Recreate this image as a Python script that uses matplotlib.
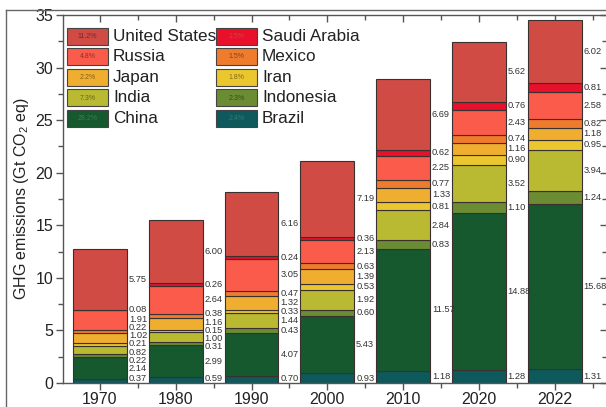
import numpy as np
import matplotlib
matplotlib.use("Agg")
import matplotlib.pyplot as plt
from matplotlib.patches import Rectangle
from matplotlib.lines import Line2D
from matplotlib.ticker import MultipleLocator, FixedLocator
import matplotlib.colors as mcolors

plt.rcParams['font.family'] = ['Liberation Sans', 'DejaVu Sans']
plt.rcParams['mathtext.fontset'] = 'custom'
plt.rcParams['mathtext.rm'] = 'Liberation Sans'

years = ['1970', '1980', '1990', '2000', '2010', '2020', '2022']

# stacking order, bottom to top
countries = ['Brazil', 'China', 'Indonesia', 'India', 'Iran', 'Japan',
             'Mexico', 'Russia', 'Saudi Arabia', 'United States']

brazil = [0.37, 0.59, 0.70, 0.93, 1.18, 1.28, 1.31]
china = [2.14, 2.99, 4.07, 5.43, 11.57, 14.88, 15.68]
indonesia = [0.22, 0.31, 0.43, 0.60, 0.83, 1.10, 1.24]
india = [0.82, 1.00, 1.44, 1.92, 2.84, 3.52, 3.94]
iran = [0.21, 0.15, 0.33, 0.53, 0.81, 0.90, 0.95]
japan = [1.02, 1.16, 1.32, 1.39, 1.33, 1.16, 1.18]
mexico = [0.22, 0.38, 0.47, 0.63, 0.77, 0.74, 0.82]
russia = [1.91, 2.64, 3.05, 2.13, 2.25, 2.43, 2.58]
saudi = [0.08, 0.26, 0.24, 0.36, 0.62, 0.76, 0.81]
usa = [5.75, 6.00, 6.16, 7.19, 6.69, 5.62, 6.02]

# 2022 share of global emissions shown in the legend keys
shares = {'United States': '11.2%', 'Russia': '4.8%', 'Japan': '2.2%',
          'India': '7.3%', 'China': '28.2%', 'Saudi Arabia': '1.5%',
          'Mexico': '1.5%', 'Iran': '1.8%', 'Indonesia': '2.3%',
          'Brazil': '2.4%'}

series = [brazil, china, indonesia, india, iran, japan, mexico, russia, saudi, usa]

colors = {'United States': '#d14b45', 'Saudi Arabia': '#e8102a',
          'Russia': '#fa5b4b', 'Mexico': '#ef7c2d', 'Japan': '#f0ae30',
          'Iran': '#ebc72f', 'India': '#b9b932', 'Indonesia': '#6b8c33',
          'China': '#16592f', 'Brazil': '#0e595c'}

fig = plt.figure(figsize=(6.06, 4.07), dpi=100)
W, H = 606, 407
ax_l, ax_r, ax_t, ax_b = 63, 607, 15, 383
ax = fig.add_axes([ax_l / W, 1 - ax_b / H, (ax_r - ax_l) / W, (ax_b - ax_t) / H])

x = np.arange(len(years))
width = 0.71
bottom = np.zeros(len(years))
data = np.array(series)
for name, vals in zip(countries, series):
    ax.bar(x, vals, width, bottom=bottom, color=colors[name],
           edgecolor='#3a3030', linewidth=0.8, zorder=2)
    bottom = bottom + np.array(vals)


def spread(centers, gap, lo):
    y = list(centers)
    for _ in range(2000):
        for i in range(len(y) - 1):
            d = y[i + 1] - y[i]
            if d < gap:
                s = (gap - d) / 2
                y[i] -= s
                y[i + 1] += s
        if y[0] < lo:
            y[0] = lo
    return y


# value labels to the right of each stacked bar
cum = np.cumsum(data, axis=0)
for j in range(len(years)):
    tops = cum[:, j]
    bots = tops - data[:, j]
    centers = (tops + bots) / 2
    ys = spread(centers, 0.78, 0.4)
    for i in range(len(countries)):
        ax.text(x[j] + width / 2 + 0.025, ys[i], f'{data[i, j]:.2f}',
                fontsize=6.7, color='#333333', ha='left', va='center', zorder=3)

ax.set_xlim(-0.488, 6.69)
ax.set_ylim(0, 35)
ax.set_xticks(x)
ax.set_xticklabels(years)
ax.xaxis.set_minor_locator(FixedLocator(np.arange(-0.5, 7, 1.0)))
ax.yaxis.set_major_locator(MultipleLocator(5))
ax.yaxis.set_minor_locator(MultipleLocator(2.5))

for s in ax.spines.values():
    s.set_color('#555555')
    s.set_linewidth(1.0)

ax.tick_params(axis='both', which='major', labelsize=11.5, colors='#555555',
               labelcolor='#222222', length=5, width=1.0)
ax.tick_params(axis='both', which='minor', colors='#555555', length=3.5, width=1.0)
ax.tick_params(axis='both', which='both', top=True, right=True)
ax.tick_params(axis='x', which='major', pad=1.5)
ax.tick_params(axis='y', which='major', pad=2)
# left/bottom ticks point outward, top/right ticks inward
for t in ax.yaxis.get_major_ticks() + ax.yaxis.get_minor_ticks():
    t.tick1line.set_marker(matplotlib.lines.TICKLEFT)
    t.tick2line.set_marker(matplotlib.lines.TICKLEFT)
for t in ax.xaxis.get_major_ticks() + ax.xaxis.get_minor_ticks():
    t.tick1line.set_marker(matplotlib.lines.TICKDOWN)
    t.tick2line.set_marker(matplotlib.lines.TICKDOWN)

ax.set_ylabel('GHG emissions (Gt CO$_\\mathregular{2}$ eq)', fontsize=11.5,
              color='#222222', labelpad=3)

# legend keys with embedded share labels
def px_to_ax(px, py):
    return ((px - ax_l) / (ax_r - ax_l), (ax_b - py) / (ax_b - ax_t))

left_col = ['United States', 'Russia', 'Japan', 'India', 'China']
right_col = ['Saudi Arabia', 'Mexico', 'Iran', 'Indonesia', 'Brazil']
key_w, key_h, pitch, top0 = 41, 17, 20.5, 28
for col, kx in ((left_col, 67), (right_col, 216)):
    for r, name in enumerate(col):
        ytop = top0 + r * pitch
        x0, y0 = px_to_ax(kx, ytop + key_h)
        x1, y1 = px_to_ax(kx + key_w, ytop)
        ax.add_patch(Rectangle((x0, y0), x1 - x0, y1 - y0, transform=ax.transAxes,
                               facecolor=colors[name], edgecolor='#444444',
                               linewidth=0.8, zorder=4))
        rgb = np.array(mcolors.to_rgb(colors[name]))
        lum = 0.299 * rgb[0] + 0.587 * rgb[1] + 0.114 * rgb[2]
        tc = rgb * 0.55 if lum > 0.35 else rgb * 0.6 + 0.4 * np.array([0.45, 0.7, 0.5])
        ax.text((x0 + x1) / 2, (y0 + y1) / 2, shares[name], transform=ax.transAxes,
                fontsize=5, color=tc, ha='center', va='center', zorder=5)
        tx, ty = px_to_ax(kx + key_w + 5, ytop + key_h / 2)
        ax.text(tx, ty, name, transform=ax.transAxes, fontsize=12.3,
                color='#222222', ha='left', va='center', zorder=5)

# outer frame
fig.add_artist(Line2D([6 / W, 6 / W], [0, 1 - 10 / H], transform=fig.transFigure,
                      color='#666666', linewidth=1.0))
fig.add_artist(Line2D([6 / W, 1], [1 - 10 / H, 1 - 10 / H], transform=fig.transFigure,
                      color='#666666', linewidth=1.0))

fig.savefig('out.png', dpi=100)
